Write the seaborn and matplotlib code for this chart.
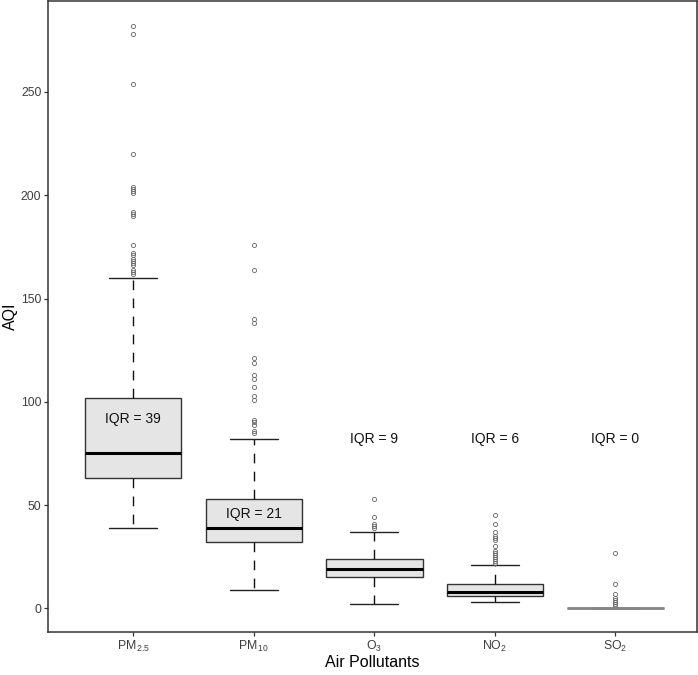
import matplotlib
matplotlib.use("Agg")
import matplotlib.pyplot as plt
import seaborn as sns

# ---- data ----
categories = ["PM2.5", "PM10", "O3", "NO2", "SO2"]
tick_labels = [r"PM$_{\,2.5}$", r"PM$_{\,10}$", r"O$_{3}$", r"NO$_{2}$", r"SO$_{2}$"]
q1 = [63, 32, 15, 6, 0]
median = [75, 39, 19, 8, 0]
q3 = [102, 53, 24, 12, 0]
whisker_low = [39, 9, 2, 3, 0]
whisker_high = [160, 82, 37, 21, 0]
outliers_pm25 = [282, 278, 254, 220, 204, 203, 202, 201, 192, 191, 190, 176, 172,
                 171, 169, 168, 167, 166, 164, 163, 162]
outliers_pm10 = [176, 164, 140, 138, 121, 119, 113, 111, 107, 103, 101, 91, 90, 89, 86, 85]
outliers_o3 = [53, 44, 41, 40, 39]
outliers_no2 = [45, 41, 37, 35, 34, 33, 30, 28, 27, 26, 25, 24, 23, 22]
outliers_so2 = [27, 12, 7, 5, 4, 3, 2, 1]
iqr_text = ["IQR = 39", "IQR = 21", "IQR = 9", "IQR = 6", "IQR = 0"]
iqr_text_y = [91.5, 45.5, 82, 82, 82]

outliers = [outliers_pm25, outliers_pm10, outliers_o3, outliers_no2, outliers_so2]

sns.set_theme(style="white")
plt.rcParams["font.family"] = ["Liberation Sans", "DejaVu Sans"]
plt.rcParams["mathtext.fontset"] = "custom"
plt.rcParams["mathtext.rm"] = "Liberation Sans"
plt.rcParams["mathtext.it"] = "Liberation Sans:italic"
plt.rcParams["mathtext.default"] = "regular"

fig = plt.figure(figsize=(6.98, 6.75), dpi=100)
ax = fig.add_axes([0.0692, 0.0641, 0.9981 - 0.0692, 0.9985 - 0.0641])

stats = []
for i, name in enumerate(categories):
    stats.append(dict(label=name, med=median[i], q1=q1[i], q3=q3[i],
                      whislo=whisker_low[i], whishi=whisker_high[i],
                      fliers=outliers[i]))

positions = list(range(1, len(categories) + 1))
parts = ax.bxp(stats, positions=positions, widths=0.8, capwidths=0.4,
               patch_artist=True, showfliers=True,
               boxprops=dict(facecolor="#e5e5e5", edgecolor="#333333", linewidth=1.0),
               whiskerprops=dict(color="#111111", linewidth=1.0, linestyle=(0, (7, 6))),
               capprops=dict(color="#222222", linewidth=1.0),
               medianprops=dict(color="black", linewidth=2.2),
               flierprops=dict(marker="o", markersize=3, markerfacecolor="none",
                               markeredgecolor="#666666", markeredgewidth=0.6,
                               linestyle="none"))

# collapsed box (all quartiles equal) renders as a grey line in the reference
for i in range(len(categories)):
    if q1[i] == q3[i]:
        parts["medians"][i].set_color("#858585")
        parts["medians"][i].set_linewidth(2.0)
        parts["boxes"][i].set_edgecolor("#858585")

for i, txt in enumerate(iqr_text):
    ax.text(positions[i], iqr_text_y[i], txt, ha="center", va="center",
            fontsize=10, color="#111111")

ax.set_xlim(0.295, 5.675)
ax.set_ylim(-11.3, 294)
ax.set_xticks(positions)
ax.set_xticklabels(tick_labels)
ax.set_yticks([0, 50, 100, 150, 200, 250])

for s in ax.spines.values():
    s.set_visible(True)
    s.set_color("#333333")
    s.set_linewidth(1.1)

ax.tick_params(axis="both", which="major", direction="out", length=3,
               width=0.9, color="#333333", labelsize=8.8, labelcolor="#3d3d3d",
               pad=2, left=True, bottom=True)
ax.set_xlabel("Air Pollutants", fontsize=11.5, color="black", labelpad=1)
ax.set_ylabel("AQI", fontsize=11.5, color="black")
ax.yaxis.set_label_coords(-0.047, 0.5)
ax.grid(False)

fig.savefig("out.png", dpi=100)
